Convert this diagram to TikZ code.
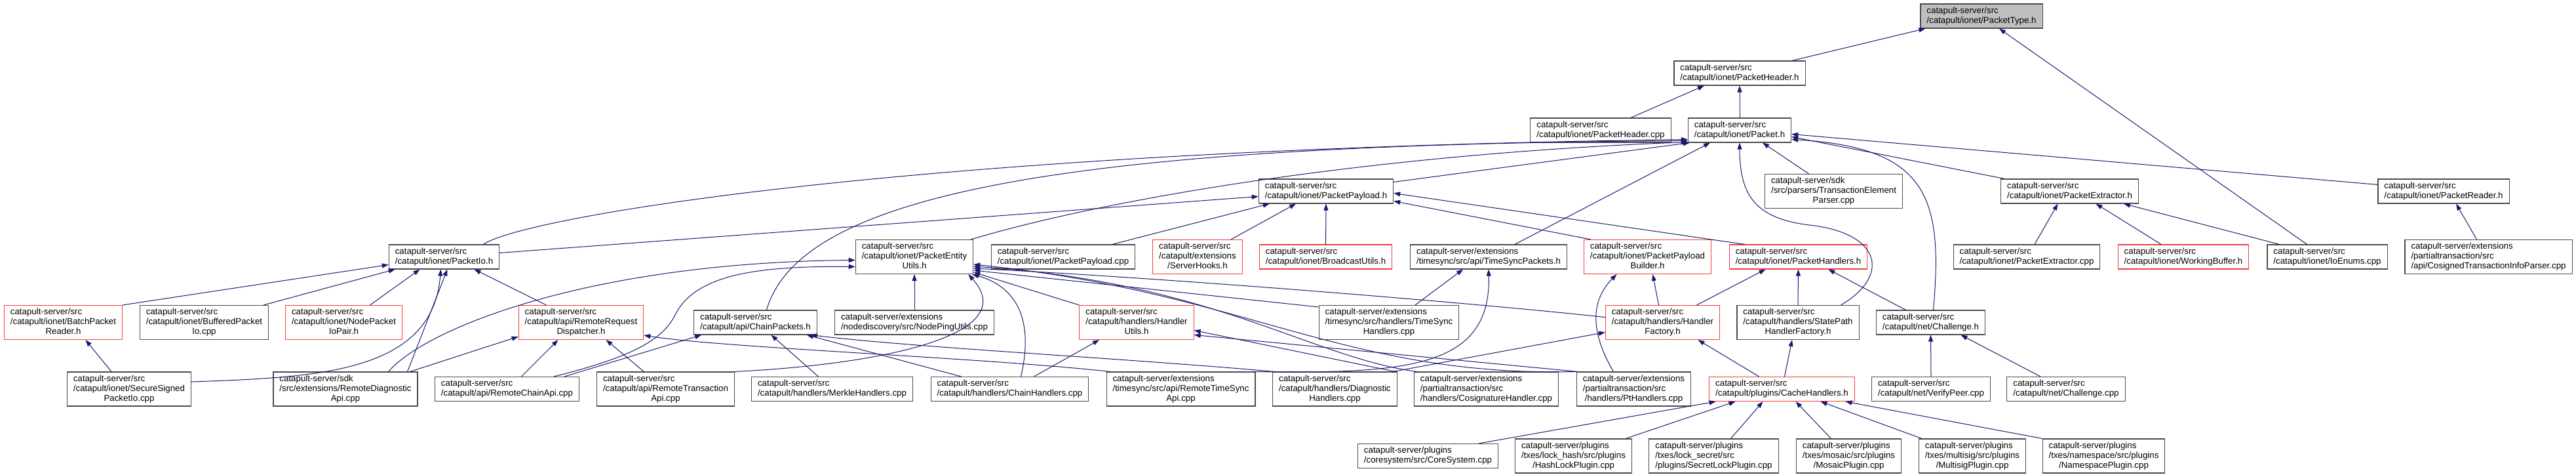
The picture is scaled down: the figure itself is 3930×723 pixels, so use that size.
\documentclass[tikz,border=0pt]{standalone}
\usepackage{fontspec}
\setmainfont{Liberation Sans}
\usepackage{tikz}
\usetikzlibrary{arrows.meta}
\definecolor{edgeblue}{RGB}{25,25,112}
\definecolor{truncred}{RGB}{245,60,60}
\definecolor{rootgray}{RGB}{191,191,191}
\newcommand{\fsize}{\fontsize{13.3}{15}\selectfont}
\newcommand{\fileii}[2]{\begin{tabular}{@{}l@{}}#1\\#2\end{tabular}}
\newcommand{\fileiii}[3]{\begin{tabular}{@{}l@{}}#1\\#2\\\multicolumn{1}{@{}c@{}}{#3}\end{tabular}}

\begin{document}
\begin{tikzpicture}[x=1pt, y=-1pt,
  file/.style={draw=black!70, line width=1.1pt, fill=white, font=\fsize, inner xsep=9.5pt, inner ysep=3.5pt},
  trunc/.style={file, draw=truncred},
  root/.style={file, fill=rootgray},
  inc/.style={-{Triangle[length=10pt,width=7pt]}, line width=1pt, color=edgeblue},
]
\fill[white] (0,0) rectangle (3930,723);
\useasboundingbox (0,0) rectangle (3930,723);

% rows 0-3
\node[root] (ptype) at (3023,24.5) {\fileii{catapult-server/src}{/catapult/ionet/PacketType.h}};
\node[file] (phdr) at (2654,111.5) {\fileii{catapult-server/src}{/catapult/ionet/PacketHeader.h}};
\node[file] (phdrcpp) at (2442,198.5) {\fileii{catapult-server/src}{/catapult/ionet/PacketHeader.cpp}};
\node[file] (pkt) at (2654,198.5) {\fileii{catapult-server/src}{/catapult/ionet/Packet.h}};
\node[file] (ppay) at (2023,291.5) {\fileii{catapult-server/src}{/catapult/ionet/PacketPayload.h}};
\node[file] (tep) at (2797.5,291.5) {\fileiii{catapult-server/sdk}{/src/parsers/TransactionElement}{Parser.cpp}};
\node[file] (pext) at (3157.5,291.5) {\fileii{catapult-server/src}{/catapult/ionet/PacketExtractor.h}};
\node[file] (prdr) at (3728,291.5) {\fileii{catapult-server/src}{/catapult/ionet/PacketReader.h}};

% row 4
\node[file] (pio) at (677.5,391.5) {\fileii{catapult-server/src}{/catapult/ionet/PacketIo.h}};
\node[file] (peu) at (1395,391.5) {\fileiii{catapult-server/src}{/catapult/ionet/PacketEntity}{Utils.h}};
\node[file] (ppaycpp) at (1622,391.5) {\fileii{catapult-server/src}{/catapult/ionet/PacketPayload.cpp}};
\node[trunc] (hooks) at (1827,391.5) {\fileiii{catapult-server/src}{/catapult/extensions}{/ServerHooks.h}};
\node[trunc] (bcast) at (2022.5,391.5) {\fileii{catapult-server/src}{/catapult/ionet/BroadcastUtils.h}};
\node[file] (tspk) at (2271,391.5) {\fileii{catapult-server/extensions}{/timesync/src/api/TimeSyncPackets.h}};
\node[trunc] (ppb) at (2513.5,391.5) {\fileiii{catapult-server/src}{/catapult/ionet/PacketPayload}{Builder.h}};
\node[trunc] (phnd) at (2743.5,391.5) {\fileii{catapult-server/src}{/catapult/ionet/PacketHandlers.h}};
\node[file] (pextcpp) at (3092,391.5) {\fileii{catapult-server/src}{/catapult/ionet/PacketExtractor.cpp}};
\node[trunc] (wbuf) at (3331,391.5) {\fileii{catapult-server/src}{/catapult/ionet/WorkingBuffer.h}};
\node[file] (ioenum) at (3550.5,391.5) {\fileii{catapult-server/src}{/catapult/ionet/IoEnums.cpp}};
\node[file] (cosparse) at (3796.5,391.5) {\fileiii{catapult-server/extensions}{/partialtransaction/src}{/api/CosignedTransactionInfoParser.cpp}};

% row 5
\node[trunc] (bpr) at (96.5,491.5) {\fileiii{catapult-server/src}{/catapult/ionet/BatchPacket}{Reader.h}};
\node[file] (bufio) at (311.5,491.5) {\fileiii{catapult-server/src}{/catapult/ionet/BufferedPacket}{Io.cpp}};
\node[trunc] (npio) at (524.5,491.5) {\fileiii{catapult-server/src}{/catapult/ionet/NodePacket}{IoPair.h}};
\node[trunc] (rrd) at (886.5,491.5) {\fileiii{catapult-server/src}{/catapult/api/RemoteRequest}{Dispatcher.h}};
\node[file] (cpk) at (1152.5,491.5) {\fileii{catapult-server/src}{/catapult/api/ChainPackets.h}};
\node[file] (nping) at (1395,491.5) {\fileii{catapult-server/extensions}{/nodediscovery/src/NodePingUtils.cpp}};
\node[trunc] (hutil) at (1734,491.5) {\fileiii{catapult-server/src}{/catapult/handlers/Handler}{Utils.h}};
\node[file] (tshnd) at (2119,491.5) {\fileiii{catapult-server/extensions}{/timesync/src/handlers/TimeSync}{Handlers.cpp}};
\node[trunc] (hfac) at (2536.5,491.5) {\fileiii{catapult-server/src}{/catapult/handlers/Handler}{Factory.h}};
\node[file] (sphf) at (2743,491.5) {\fileiii{catapult-server/src}{/catapult/handlers/StatePath}{HandlerFactory.h}};
\node[file] (chlh) at (2945.5,491.5) {\fileii{catapult-server/src}{/catapult/net/Challenge.h}};

% row 6
\node[file] (sspio) at (197,593) {\fileiii{catapult-server/src}{/catapult/ionet/SecureSigned}{PacketIo.cpp}};
\node[file] (rdapi) at (527,593) {\fileiii{catapult-server/sdk}{/src/extensions/RemoteDiagnostic}{Api.cpp}};
\node[file] (rcapi) at (773.5,593) {\fileii{catapult-server/src}{/catapult/api/RemoteChainApi.cpp}};
\node[file] (rtapi) at (1015.5,593) {\fileiii{catapult-server/src}{/catapult/api/RemoteTransaction}{Api.cpp}};
\node[file] (mhnd) at (1269.5,593) {\fileii{catapult-server/src}{/catapult/handlers/MerkleHandlers.cpp}};
\node[file] (chnd) at (1540.5,593) {\fileii{catapult-server/src}{/catapult/handlers/ChainHandlers.cpp}};
\node[file] (rtsapi) at (1801.5,593) {\fileiii{catapult-server/extensions}{/timesync/src/api/RemoteTimeSync}{Api.cpp}};
\node[file] (dhnd) at (2036.5,593) {\fileiii{catapult-server/src}{/catapult/handlers/Diagnostic}{Handlers.cpp}};
\node[file] (coshnd) at (2267.5,593) {\fileiii{catapult-server/extensions}{/partialtransaction/src}{/handlers/CosignatureHandler.cpp}};
\node[file] (pthnd) at (2492.5,593) {\fileiii{catapult-server/extensions}{/partialtransaction/src}{/handlers/PtHandlers.cpp}};
\node[trunc] (cache) at (2718.5,593) {\fileii{catapult-server/src}{/catapult/plugins/CacheHandlers.h}};
\node[file] (vpeer) at (2946,593) {\fileii{catapult-server/src}{/catapult/net/VerifyPeer.cpp}};
\node[file] (chlcpp) at (3152,593) {\fileii{catapult-server/src}{/catapult/net/Challenge.cpp}};

% row 7
\node[file] (core) at (2178.5,695) {\fileii{catapult-server/plugins}{/coresystem/src/CoreSystem.cpp}};
\node[file] (hlock) at (2400.5,695) {\fileiii{catapult-server/plugins}{/txes/lock\_hash/src/plugins}{/HashLockPlugin.cpp}};
\node[file] (slock) at (2614.5,695) {\fileiii{catapult-server/plugins}{/txes/lock\_secret/src}{/plugins/SecretLockPlugin.cpp}};
\node[file] (mosaic) at (2820.5,695) {\fileiii{catapult-server/plugins}{/txes/mosaic/src/plugins}{/MosaicPlugin.cpp}};
\node[file] (msig) at (3009,695) {\fileiii{catapult-server/plugins}{/txes/multisig/src/plugins}{/MultisigPlugin.cpp}};
\node[file] (nspace) at (3209.5,695) {\fileiii{catapult-server/plugins}{/txes/namespace/src/plugins}{/NamespacePlugin.cpp}};

% PacketType.h, PacketHeader.h
\draw[inc] ([xshift=80pt]phdr.north) -- ([xshift=8pt]ptype.south west);
\draw[inc] ([xshift=-31pt]ioenum.north) -- ([xshift=27pt]ptype.south);
\draw[inc] ([xshift=46pt]phdrcpp.north) -- ([xshift=-54pt]phdr.south);
\draw[inc] (pkt.north) -- (phdr.south);

% Packet.h
\draw[inc] ([xshift=60pt]pio.north) .. controls (800,330) and (1400,228) .. ([yshift=5pt]pkt.south west);
\draw[inc] ([xshift=-4pt]peu.north east) .. controls (1700,300) and (2100,235) .. ([yshift=1pt]pkt.south west);
\draw[inc] ([yshift=-5pt]ppay.north east) -- ([xshift=3pt]pkt.south west);
\draw[inc] ([xshift=17pt]cpk.north) .. controls (1220,300) and (1600,220) .. ([yshift=3pt]pkt.south west);
\draw[inc] ([xshift=40pt]tspk.north) -- ([xshift=-45pt]pkt.south);
\draw[inc] ([xshift=-38pt]tep.north) -- ([xshift=35pt]pkt.south);
\draw[inc] ([xshift=-28pt]sphf.north east) .. controls (2885,420) and (2870,355) .. (2760,343) .. controls (2680,333) and (2654,300) .. (pkt.south);
\draw[inc] ([xshift=4pt]chlh.north) .. controls (2965,300) and (2940,225) .. ([yshift=-14pt]pkt.east);
\draw[inc] ([xshift=6pt]pext.north west) -- ([yshift=-10pt]pkt.east);
\draw[inc] ([yshift=-9pt]prdr.north west) -- ([yshift=-6pt]pkt.east);

% PacketPayload.h
\draw[inc] ([yshift=6pt]pio.east) -- ([yshift=-8pt]ppay.west);
\draw[inc] ([xshift=75pt]ppaycpp.north) -- ([xshift=17pt]ppay.south west);
\draw[inc] ([xshift=51pt]hooks.north) -- ([xshift=-46pt]ppay.south);
\draw[inc] (bcast.north) -- (ppay.south);
\draw[inc] ([xshift=11pt]ppb.north west) -- ([yshift=4pt]ppay.south east);
\draw[inc] ([xshift=24pt]phnd.north west) -- ([yshift=-3pt]ppay.east);

% PacketExtractor.h, PacketReader.h
\draw[inc] ([xshift=12pt]pextcpp.north) -- ([xshift=-18pt]pext.south);
\draw[inc] ([xshift=-34pt]wbuf.north) -- ([xshift=40pt]pext.south);
\draw[inc] ([xshift=19pt]ioenum.north west) -- ([xshift=-23pt]pext.south east);
\draw[inc] ([xshift=-18pt]cosparse.north) -- ([xshift=19pt]prdr.south);

% PacketIo.h
\draw[inc] (bpr.north east) -- ([yshift=-12pt]pio.west);
\draw[inc] ([xshift=-8pt]bufio.north east) -- ([xshift=10pt]pio.south west);
\draw[inc] ([xshift=40pt]npio.north) -- ([xshift=-37pt]pio.south);
\draw[inc] ([xshift=-53pt]rrd.north) -- ([xshift=46pt]pio.south);
\draw[inc] ([yshift=11pt]sspio.east) .. controls (480,575) and (660,570) .. ([xshift=-5pt]pio.south);
\draw[inc] ([xshift=-16pt]rdapi.north east) -- ([xshift=5pt]pio.south);
\draw[inc] ([xshift=-27pt]sspio.north) -- ([xshift=34pt]bpr.south);

% RemoteRequestDispatcher.h
\draw[inc] ([xshift=-12pt]rdapi.north east) -- ([yshift=5pt]rrd.south west);
\draw[inc] ([xshift=22pt]rcapi.north) -- ([xshift=-35pt]rrd.south);
\draw[inc] ([xshift=-33pt]rtapi.north) -- ([xshift=38pt]rrd.south);
\draw[inc] ([xshift=6pt]rtsapi.north west) .. controls (1500,545) and (1100,530) .. ([yshift=7pt]rrd.south east);

% PacketEntityUtils.h
\draw[inc] (nping.north) -- (peu.south);
\draw[inc] ([xshift=-45pt]rdapi.north east) .. controls (650,500) and (900,400) .. ([yshift=-5pt]peu.west);
\draw[inc] ([xshift=-39pt]rcapi.north east) .. controls (960,545) and (1010,520) .. (1030,480) .. controls (1060,420) and (1150,405) .. ([yshift=-15pt]peu.west);
\draw[inc] (rtapi.north east) .. controls (1350,555) and (1560,510) .. ([xshift=-8pt]peu.south east);
\draw[inc] ([xshift=17pt]chnd.north) .. controls (1575,500) and (1560,440) .. ([xshift=-2pt]peu.south east);
\draw[inc] (hutil.north west) -- ([yshift=3pt]peu.south east);
\draw[inc] ([yshift=-3pt]tshnd.north west) -- ([yshift=6pt]peu.south east);
\draw[inc] ([yshift=8pt]hfac.west) .. controls (2250,462) and (1800,425) .. ([yshift=9pt]peu.south east);
\draw[inc] ([xshift=5pt]coshnd.north west) .. controls (2000,545) and (1850,430) .. ([yshift=12pt]peu.south east);
\draw[inc] (pthnd.north west) .. controls (2050,575) and (1900,445) .. ([yshift=15pt]peu.south east);

% ChainPackets.h, HandlerUtils.h
\draw[inc] ([xshift=-23pt]rcapi.north east) -- ([xshift=12pt]cpk.south west);
\draw[inc] ([xshift=-21pt]mhnd.north) -- ([xshift=24pt]cpk.south);
\draw[inc] ([xshift=-74pt]chnd.north) -- ([xshift=-16pt]cpk.south east);
\draw[inc] ([xshift=4pt]dhnd.north west) .. controls (1700,545) and (1400,530) .. ([xshift=-10pt]cpk.south east);
\draw[inc] ([xshift=37pt]chnd.north) -- ([xshift=-57pt]hutil.south);
\draw[inc] ([xshift=-3pt]dhnd.north east) -- ([yshift=-12pt]hutil.east);
\draw[inc] ([xshift=2pt]pthnd.north west) -- ([yshift=-19pt]hutil.east);

% TimeSyncPackets.h
\draw[inc] ([xshift=40pt]tshnd.north) -- ([xshift=-39pt]tspk.south);
\draw[inc] ([xshift=-3pt]rtsapi.north east) .. controls (2150,570) and (2275,560) .. (tspk.south);

% handlers
\draw[inc] ([xshift=-6pt]hfac.north) -- ([xshift=8pt]ppb.south);
\draw[inc] ([xshift=52pt]hfac.north) -- ([xshift=-50pt]phnd.south);
\draw[inc] (sphf.north) -- (phnd.south);
\draw[inc] ([xshift=-38pt]chlh.north) -- ([xshift=-60pt]phnd.south east);
\draw[inc] ([xshift=-31pt]pthnd.north) .. controls (2440,530) and (2415,470) .. ([xshift=-47pt]ppb.south);
\draw[inc] ([xshift=-7pt]dhnd.north east) -- ([yshift=-15pt]hfac.west);
\draw[inc] ([xshift=-35pt]cache.north) -- ([xshift=54pt]hfac.south);
\draw[inc] ([xshift=4pt]cache.north) -- ([xshift=-9pt]sphf.south);
\draw[inc] (vpeer.north) -- (chlh.south);
\draw[inc] ([xshift=-39pt]chlcpp.north) -- ([xshift=46pt]chlh.south);

% CacheHandlers.h
\draw[inc] ([xshift=-30pt]core.north east) -- ([xshift=-101pt]cache.south);
\draw[inc] ([xshift=-10pt]hlock.north east) -- ([xshift=-71pt]cache.south);
\draw[inc] ([xshift=26pt]slock.north) -- ([xshift=-29pt]cache.south);
\draw[inc] ([xshift=-27pt]mosaic.north) -- ([xshift=21pt]cache.south);
\draw[inc] ([xshift=5pt]msig.north west) -- ([xshift=59pt]cache.south);
\draw[inc] (nspace.north west) -- ([xshift=97pt]cache.south);
\end{tikzpicture}
\end{document}
